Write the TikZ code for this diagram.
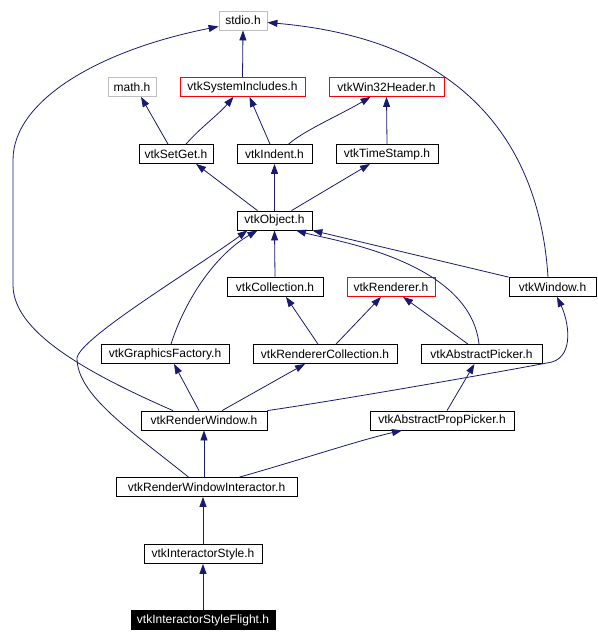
\documentclass[tikz,border=0pt]{standalone}
\usepackage{fontspec}
\setmainfont{Liberation Sans}
\usetikzlibrary{arrows.meta}
\definecolor{edgeblue}{RGB}{25,25,112}
\definecolor{boxgray}{RGB}{191,191,191}
\begin{document}
\begin{tikzpicture}[x=1pt,y=-1pt,
  box/.style={draw=black, line width=0.8pt, rectangle, minimum height=19pt, inner sep=0pt, font=\fontsize{12}{14}\selectfont, fill=white},
  graybox/.style={box, draw=boxgray},
  redbox/.style={box, draw=red},
  leafbox/.style={box, fill=black, text=white},
  dep/.style={draw=edgeblue, line width=0.8pt, -{Triangle[length=10pt,width=7pt]}}]
\useasboundingbox (0,0) rectangle (597,642);
% nodes
\node[graybox, minimum width=48pt]  (stdio)      at (243,20.5)  {stdio.h};
\node[graybox, minimum width=48pt]  (math)       at (132,87)    {math.h};
\node[redbox,  minimum width=125pt] (sysinc)     at (242.5,87)  {vtkSystemIncludes.h};
\node[redbox,  minimum width=115pt] (win32)      at (386.5,87)  {vtkWin32Header.h};
\node[box,     minimum width=74pt]  (setget)     at (176,154)   {vtkSetGet.h};
\node[box,     minimum width=75pt]  (indent)     at (274.5,154) {vtkIndent.h};
\node[box,     minimum width=102pt] (timestamp)  at (387,154)   {vtkTimeStamp.h};
\node[box,     minimum width=75pt]  (object)     at (274.5,220.5) {vtkObject.h};
\node[box,     minimum width=96pt]  (collection) at (275,287)   {vtkCollection.h};
\node[redbox,  minimum width=88pt]  (renderer)   at (391,287)   {vtkRenderer.h};
\node[box,     minimum width=87pt]  (window)     at (552.5,287) {vtkWindow.h};
\node[box,     minimum width=128pt] (gf)         at (165,354)   {vtkGraphicsFactory.h};
\node[box,     minimum width=144pt] (rc)         at (325,354)   {vtkRendererCollection.h};
\node[box,     minimum width=121pt] (ap)         at (481.5,354) {vtkAbstractPicker.h};
\node[box,     minimum width=126pt] (rw)         at (204,420.5) {vtkRenderWindow.h};
\node[box,     minimum width=144pt] (app)        at (442,420.5) {vtkAbstractPropPicker.h};
\node[box,     minimum width=181pt] (rwi)        at (206.5,487) {vtkRenderWindowInteractor.h};
\node[box,     minimum width=118pt] (is)         at (203,554)   {vtkInteractorStyle.h};
\node[leafbox, minimum width=144pt] (flight)     at (203,620)   {vtkInteractorStyleFlight.h};
% edges
\draw[dep] (sysinc.north) -- (stdio.south);
\draw[dep] ([xshift=-8pt]setget.north) -- ([xshift=9pt]math.south);
\draw[dep] ([xshift=10pt]setget.north) .. controls (200,128) and (218,115) .. ([xshift=-9pt]sysinc.south);
\draw[dep] ([xshift=-4.5pt]indent.north) -- ([xshift=7pt]sysinc.south);
\draw[dep] ([xshift=14pt]indent.north) .. controls (305,130) and (340,115) .. ([xshift=-16pt]win32.south);
\draw[dep] (timestamp.north) -- (win32.south);
\draw[dep] ([xshift=-17pt]object.north) -- ([xshift=20pt]setget.south);
\draw[dep] (object.north) -- (indent.south);
\draw[dep] ([xshift=17pt]object.north) -- ([xshift=-17pt]timestamp.south);
\draw[dep] (collection.north) -- (object.south);
\draw[dep] (window.north west) -- (object.south east);
\draw[dep] ([xshift=-4.5pt]window.north) .. controls (540,150) and (470,40) .. ([yshift=-2pt]stdio.east);
\draw[dep] ([xshift=6pt]gf.north) .. controls (185,300) and (215,255) .. ([xshift=-17pt]object.south);
\draw[dep] ([xshift=-7pt]rc.north) -- ([xshift=11pt]collection.south);
\draw[dep] ([xshift=11pt]rc.north) -- ([xshift=-10pt]renderer.south);
\draw[dep] ([xshift=-13.5pt]ap.north) -- ([xshift=12pt]renderer.south);
\draw[dep] ([xshift=-2.5pt]ap.north) .. controls (470,260) and (330,240) .. ([xshift=21.5pt]object.south);
\draw[dep] ([xshift=-5pt]rw.north) -- ([xshift=9pt]gf.south);
\draw[dep] ([xshift=18pt]rw.north) -- ([xshift=-20pt]rc.south);
\draw[dep] (rw.north east) .. controls (340,400) and (500,372) .. (552,362) .. controls (575,355) and (568,320) .. ([xshift=4.5pt]window.south);
\draw[dep] ([xshift=-18pt]rwi.north) .. controls (130,430) and (77,395) .. (77,358) .. controls (80,338) and (190,272) .. ([xshift=-27pt]object.south);
\draw[dep] ([xshift=-31pt]rw.north) .. controls (80,370) and (13,330) .. (13,285) -- (13,160) .. controls (13,100) and (100,50) .. ([yshift=-6pt]stdio.west);
\draw[dep] ([xshift=-2.5pt]rwi.north) -- (rw.south);
\draw[dep] ([xshift=33pt]rwi.north) .. controls (300,460) and (360,440) .. ([xshift=-40pt]app.south);
\draw[dep] ([xshift=5pt]app.north) -- ([xshift=-7pt]ap.south);
\draw[dep] (is.north) -- ([xshift=-3.5pt]rwi.south);
\draw[dep] (flight.north) -- (is.south);
\end{tikzpicture}
\end{document}
